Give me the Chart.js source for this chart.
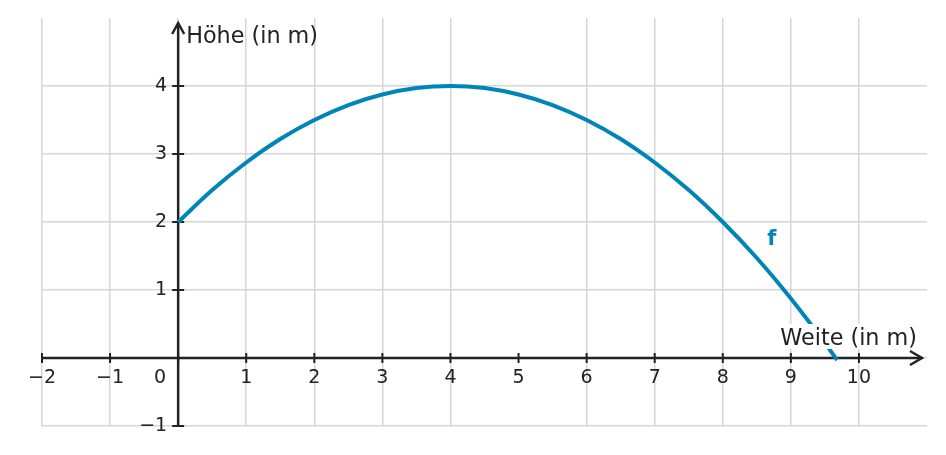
<!DOCTYPE html>
<html>
<head>
<meta charset="utf-8">
<script src="https://cdn.jsdelivr.net/npm/chart.js@4.4.1/dist/chart.umd.min.js"></script>
<style>
  html,body{margin:0;padding:0;background:#fff;}
  #wrap{width:946px;height:455px;}
</style>
</head>
<body>
<div id="wrap"><canvas id="chart" width="946" height="455"></canvas></div>
<script>
// curve f (Weite in m -> Höhe in m)
const xValues = [0, 0.5, 1, 1.5, 2, 2.5, 3, 3.5, 4, 4.5, 5, 5.5, 6, 6.5, 7, 7.5, 8, 8.5, 9, 9.5, 9.68];
const yValues = [2, 2.47, 2.875, 3.22, 3.5, 3.72, 3.875, 3.97, 4, 3.97, 3.875, 3.72, 3.5, 3.22, 2.875, 2.47, 2, 1.47, 0.875, 0.22, -0.03];

const xTickLabels = [-2, -1, 1, 2, 3, 4, 5, 6, 7, 8, 9, 10];
const yTickLabels = [-1, 1, 2, 3, 4];

const xAxisTitle = 'Weite (in m)';
const yAxisTitle = 'Höhe (in m)';
const curveName = 'f';

const FONT = '"DejaVu Sans", sans-serif';
const INK = '#222222';
const BLUE = '#0085b8';

function minus(v){ return v < 0 ? '\u2212' + Math.abs(v) : String(v); }

// axes, arrows, tick labels and annotations
const axesPlugin = {
  id: 'axes',
  beforeDatasetsDraw(chart){
    const {ctx, scales:{x, y}} = chart;
    const x0 = x.getPixelForValue(0), y0 = y.getPixelForValue(0);
    ctx.save();
    ctx.strokeStyle = INK; ctx.fillStyle = INK; ctx.lineWidth = 2.5;
    // x axis
    const xEnd = x.getPixelForValue(11) - 5;
    ctx.beginPath(); ctx.moveTo(x.getPixelForValue(-2), y0); ctx.lineTo(xEnd, y0); ctx.stroke();
    ctx.beginPath(); ctx.moveTo(xEnd - 12, y0 - 7); ctx.lineTo(xEnd, y0); ctx.lineTo(xEnd - 12, y0 + 7); ctx.stroke();
    // y axis
    const yEnd = y.getPixelForValue(5) + 5;
    ctx.beginPath(); ctx.moveTo(x0, y.getPixelForValue(-1)); ctx.lineTo(x0, yEnd); ctx.stroke();
    ctx.beginPath(); ctx.moveTo(x0 - 6, yEnd + 11); ctx.lineTo(x0, yEnd); ctx.lineTo(x0 + 6, yEnd + 11); ctx.stroke();
    // tick marks
    ctx.lineWidth = 2;
    for (const v of xTickLabels.concat([0])){
      const px = x.getPixelForValue(v);
      ctx.beginPath(); ctx.moveTo(px, y0 - 5); ctx.lineTo(px, y0 + 5); ctx.stroke();
    }
    for (const v of yTickLabels){
      const py = y.getPixelForValue(v);
      ctx.beginPath(); ctx.moveTo(x0 - 6, py); ctx.lineTo(x0 + 6, py); ctx.stroke();
    }
    // tick labels
    ctx.font = '19px ' + FONT;
    ctx.textAlign = 'center'; ctx.textBaseline = 'middle';
    for (const v of xTickLabels){
      ctx.fillText(minus(v), x.getPixelForValue(v), y0 + 20);
    }
    ctx.fillText('0', x0 - 18, y0 + 20);
    ctx.textAlign = 'right';
    for (const v of yTickLabels){
      ctx.fillText(minus(v), x0 - 11, y.getPixelForValue(v));
    }
    ctx.textAlign = 'left'; ctx.textBaseline = 'alphabetic';
    ctx.font = '22.3px ' + FONT;
    ctx.fillText(yAxisTitle, x0 + 8, yEnd + 20);
    ctx.restore();
  },
  afterDatasetsDraw(chart){
    const {ctx, scales:{x, y}} = chart;
    const y0 = y.getPixelForValue(0);
    ctx.save();
    ctx.font = '22.3px ' + FONT;
    ctx.textAlign = 'right'; ctx.textBaseline = 'alphabetic';
    const right = x.getPixelForValue(11) - 10;
    const w = ctx.measureText(xAxisTitle).width;
    ctx.fillStyle = '#fff';
    ctx.fillRect(right - w - 2, y0 - 34, w + 4, 25);
    ctx.fillStyle = INK;
    ctx.fillText(xAxisTitle, right, y0 - 13);
    ctx.fillStyle = BLUE;
    ctx.font = 'bold 21px ' + FONT;
    ctx.textAlign = 'center';
    ctx.fillText(curveName, x.getPixelForValue(8.72), y.getPixelForValue(1.66));
    ctx.restore();
  }
};

const gridColor = c => (c.tick && (c.tick.value === 11 || c.tick.value === 5)) ? 'rgba(0,0,0,0)' : '#d6d6d6';

new Chart(document.getElementById('chart'), {
  type: 'scatter',
  data: {
    datasets: [{
      label: curveName,
      data: xValues.map((v, i) => ({x: v, y: yValues[i]})),
      showLine: true,
      borderColor: BLUE,
      borderWidth: 4,
      pointRadius: 0,
      cubicInterpolationMode: 'monotone',
      fill: false
    }]
  },
  options: {
    responsive: false,
    animation: false,
    clip: false,
    layout: {padding: {left: 42, right: 19, top: 18, bottom: 29}},
    plugins: {legend: {display: false}, tooltip: {enabled: false}},
    scales: {
      x: {
        type: 'linear', min: -2, max: 11,
        ticks: {display: false, stepSize: 1},
        grid: {color: gridColor, lineWidth: 1.5, drawTicks: false},
        border: {display: false}
      },
      y: {
        type: 'linear', min: -1, max: 5,
        ticks: {display: false, stepSize: 1},
        grid: {color: gridColor, lineWidth: 1.5, drawTicks: false},
        border: {display: false}
      }
    }
  },
  plugins: [axesPlugin]
});
</script>
</body>
</html>
